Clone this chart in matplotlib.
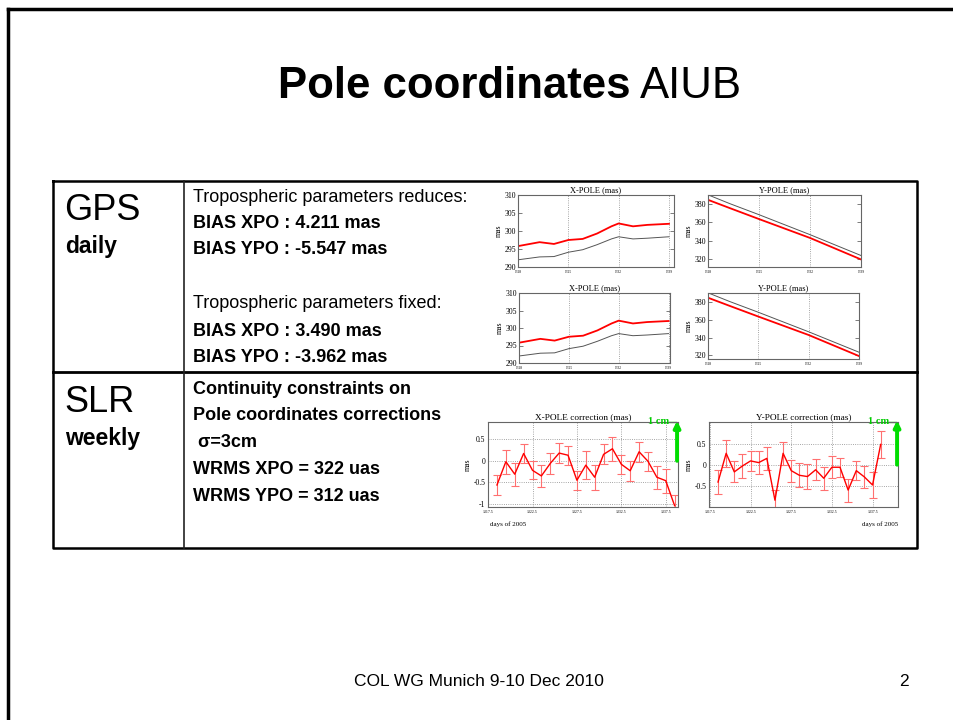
import numpy as np
import matplotlib
matplotlib.use('Agg')
import matplotlib.pyplot as plt

W, H = 954, 720
SANS = ['Liberation Sans', 'DejaVu Sans']
SERIF = ['Liberation Serif', 'DejaVu Serif']

# GPS daily pole series (mas)
gps_days = [1318, 1321, 1323, 1325, 1327, 1329, 1331, 1332, 1334, 1336, 1339]
xpo_red = [295.8, 296.9, 296.4, 297.5, 297.8, 299.3, 301.3, 302.1, 301.3, 301.7, 302.0]
xpo_ref = [292.0, 292.8, 292.9, 294.1, 294.8, 296.2, 297.8, 298.4, 297.8, 298.0, 298.4]
ypo_days = [1318, 1321, 1325, 1332, 1339]
ypo_red = [384.7, 375.6, 363.6, 342.9, 319.3]
ypo_ref = [390.2, 380.5, 368.4, 346.5, 323.6]
gps_ticks = [1318, 1325, 1332, 1339]

# SLR weekly pole corrections (mas)
slr_days = [1318.5 + i for i in range(21)]
xcorr = [-0.56, -0.02, -0.31, 0.17, -0.22, -0.35, -0.06, 0.18, 0.13, -0.45, -0.10,
         -0.38, 0.15, 0.28, -0.08, -0.23, 0.21, -0.01, -0.38, -0.46, -1.04]
xcorr_err = [0.23, 0.28, 0.27, 0.21, 0.21, 0.26, 0.25, 0.24, 0.22, 0.22, 0.32,
             0.29, 0.23, 0.28, 0.22, 0.23, 0.23, 0.22, 0.27, 0.28, 0.25]
ycorr = [-0.41, 0.27, -0.17, -0.03, 0.09, 0.05, 0.15, -0.84, 0.27, -0.14, -0.25,
         -0.28, -0.12, -0.32, -0.06, -0.06, -0.60, -0.14, -0.29, -0.48, 0.48]
ycorr_err = [0.28, 0.32, 0.25, 0.29, 0.23, 0.27, 0.27, 0.25, 0.27, 0.26, 0.28,
             0.30, 0.25, 0.27, 0.26, 0.22, 0.27, 0.22, 0.27, 0.31, 0.31]
slr_ticks = [1317.5, 1322.5, 1327.5, 1332.5, 1337.5]

fig = plt.figure(figsize=(W / 100, H / 100), dpi=100)
bg = fig.add_axes([0, 0, 1, 1])
bg.set_xlim(0, W)
bg.set_ylim(H, 0)
bg.axis('off')

# slide frame (top and left only)
bg.plot([8, W], [9, 9], color='black', lw=2.5)
bg.plot([8, 8], [9, H], color='black', lw=2.5)

# title: bold part + normal part, placed side by side
renderer = fig.canvas.get_renderer()
t1 = bg.text(278, 86, 'Pole coordinates', ha='left', va='center', fontsize=31.5,
             fontweight='bold', family=SANS)
ext = t1.get_window_extent(renderer=renderer)
x_end = ext.x1 + 9  # pixels, plus a space
bg.text(x_end, 86, 'AIUB', ha='left', va='center', fontsize=31.5, family=SANS)

# table
bg.plot([53, 917, 917, 53, 53], [181, 181, 548, 548, 181], color='black', lw=1.8)
bg.plot([53, 917], [372, 372], color='black', lw=2)
bg.plot([184, 184], [181, 548], color='#222222', lw=1.2)

bg.text(64, 211, 'GPS', fontsize=26, family=SANS, va='center')
bg.text(65, 246, 'daily', fontsize=16.5, fontweight='bold', family=SANS, va='center')
bg.text(64, 402, 'SLR', fontsize=26, family=SANS, va='center')
bg.text(65, 438, 'weekly', fontsize=16.5, fontweight='bold', family=SANS, va='center')

gps_lines = [('Tropospheric parameters reduces:', 197, 'normal'),
             ('BIAS XPO : 4.211 mas', 223, 'bold'),
             ('BIAS YPO : -5.547 mas', 250, 'bold'),
             ('Tropospheric parameters fixed:', 304, 'normal'),
             ('BIAS XPO : 3.490 mas', 331, 'bold'),
             ('BIAS YPO : -3.962 mas', 357, 'bold')]
for s, y, w in gps_lines:
    bg.text(193, y, s, fontsize=13, fontweight=w, family=SANS, va='center')

slr_lines = ['Continuity constraints on', 'Pole coordinates corrections',
             ' \u03c3=3cm', 'WRMS XPO = 322 uas', 'WRMS YPO = 312 uas']
for i, s in enumerate(slr_lines):
    bg.text(193, 389 + i * 26.8, s, fontsize=13, fontweight='bold', family=SANS, va='center')

bg.text(479, 682, 'COL WG Munich 9-10 Dec 2010', fontsize=12.5, family=SANS,
        ha='center', va='center')
bg.text(904, 682, '2', fontsize=12.5, family=SANS, ha='center', va='center')


def box(l, t, r, b):
    return fig.add_axes([l / W, 1 - b / H, (r - l) / W, (b - t) / H])


def style(ax, title, tsize):
    for sp in ax.spines.values():
        sp.set_color('#666666')
        sp.set_linewidth(0.8)
    ax.set_title(title, fontsize=tsize, family=SERIF, pad=2)
    ax.set_ylabel('mas', fontsize=5.5, family=SERIF, labelpad=1)


def gps_chart(ax, days, red, ref, ylim, yticks, title):
    ax.plot(days, ref, color='#555555', lw=0.7)
    ax.plot(days, red, color='red', lw=1.3)
    ax.set_ylim(*ylim)
    ax.set_yticks(yticks)
    ax.set_xticks(gps_ticks)
    ax.set_xticklabels([str(t) for t in gps_ticks])
    ax.xaxis.grid(True, ls=':', color='#888888', lw=0.6)
    ax.tick_params(axis='y', direction='in', length=3, width=0.6, color='#666666',
                   labelsize=5.6, pad=1.5, right=True)
    ax.tick_params(axis='x', length=0, labelsize=2.6, pad=2)
    for lab in ax.get_xticklabels() + ax.get_yticklabels():
        lab.set_family(SERIF)
    style(ax, title, 6)


a1 = box(518, 195, 674, 267)
a1.set_xlim(1318, 1339.7)
gps_chart(a1, gps_days, xpo_red, xpo_ref, (290, 310), [290, 295, 300, 305, 310], 'X-POLE (mas)')
a2 = box(708, 195, 861, 267)
a2.set_xlim(1318, 1339)
gps_chart(a2, ypo_days, ypo_red, ypo_ref, (311, 390), [320, 340, 360, 380], 'Y-POLE (mas)')
a3 = box(519, 293, 670, 363)
a3.set_xlim(1318, 1339.2)
gps_chart(a3, gps_days, xpo_red, xpo_ref, (290, 310), [290, 295, 300, 305, 310], 'X-POLE (mas)')
a4 = box(708, 293, 859, 359)
a4.set_xlim(1318, 1339)
gps_chart(a4, ypo_days, ypo_red, ypo_ref, (316, 390), [320, 340, 360, 380], 'Y-POLE (mas)')


def slr_chart(ax, vals, errs, ylim, yticks, title, tip, days_right):
    ax.errorbar(slr_days, vals, yerr=errs, fmt='none', ecolor='#ff7070', elinewidth=0.8,
                capsize=3, capthick=0.8)
    ax.plot(slr_days, vals, color='red', lw=1.0)
    ax.set_ylim(*ylim)
    ax.set_yticks(yticks)
    ax.set_yticklabels([('%g' % v) for v in yticks])
    ax.set_xticks(slr_ticks)
    ax.set_xticklabels([str(t) for t in slr_ticks])
    ax.grid(True, ls=':', color='#888888', lw=0.6)
    ax.tick_params(axis='y', length=0, labelsize=5.5, pad=2)
    ax.tick_params(axis='x', length=0, labelsize=2.8, pad=2)
    for lab in ax.get_xticklabels() + ax.get_yticklabels():
        lab.set_family(SERIF)
    style(ax, title, 6.7)
    tr = ax.get_yaxis_transform()
    ax.annotate('', xy=(0.995, tip), xytext=(0.995, 0), xycoords=tr, textcoords=tr,
                arrowprops=dict(arrowstyle='-|>', color='#00dd00', lw=2.8,
                                mutation_scale=9, shrinkA=0, shrinkB=0),
                annotation_clip=False)
    ax.text(0.955, 1.0, '1 cm', transform=ax.transAxes, ha='right', va='center',
            color='#00cc00', fontsize=7.5, fontweight='bold', family=SERIF)
    ax.plot([0.955, 0.99], [1.0, 1.0], transform=ax.transAxes, color='#00cc00',
            lw=1, clip_on=False)
    if days_right:
        ax.text(1.0, -0.2, 'days of 2005', transform=ax.transAxes, ha='right',
                va='center', fontsize=5, family=SERIF)
    else:
        ax.text(0.01, -0.2, 'days of 2005', transform=ax.transAxes, ha='left',
                va='center', fontsize=5, family=SERIF)


a5 = box(488, 422, 678, 507)
a5.set_xlim(1317.49, 1338.88)
slr_chart(a5, xcorr, xcorr_err, (-1.07, 0.9), [-1, -0.5, 0, 0.5],
          'X-POLE correction (mas)', 0.93, False)
a6 = box(709, 422, 898, 507)
a6.set_xlim(1317.39, 1340.63)
slr_chart(a6, ycorr, ycorr_err, (-1.0, 1.01), [-0.5, 0, 0.5],
          'Y-POLE correction (mas)', 1.05, True)

fig.savefig('out.png', dpi=100)
